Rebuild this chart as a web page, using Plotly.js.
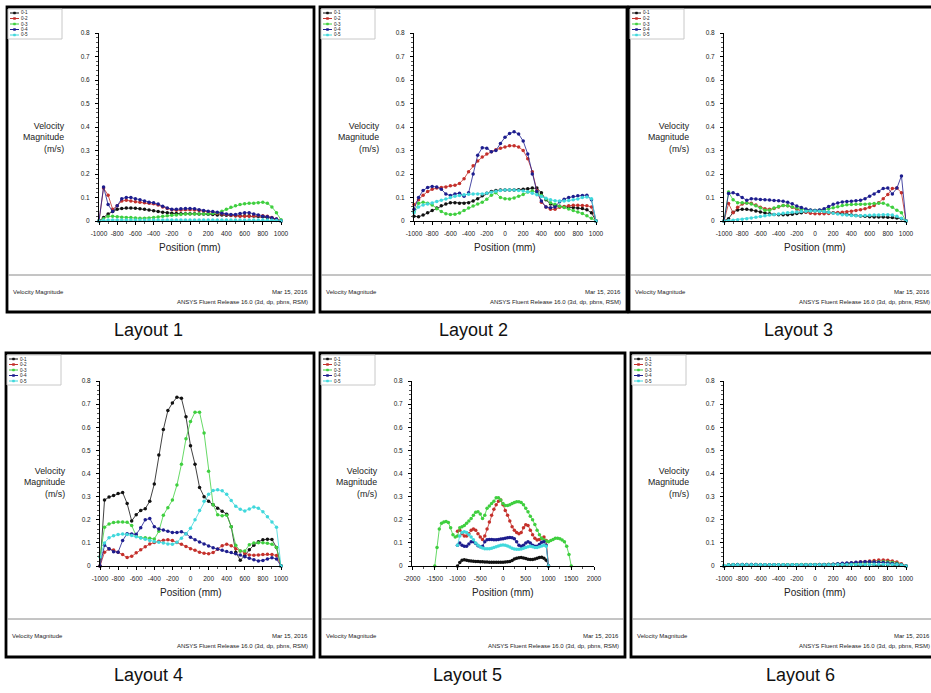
<!DOCTYPE html>
<html>
<head>
<meta charset="utf-8">
<script src="https://cdn.plot.ly/plotly-3.0.1.min.js"></script>
<style>html,body{margin:0;padding:0;background:#fff;}#chart{width:931px;height:693px;}</style>
</head>
<body>
<div id="chart"></div>
<script>
// ---------- data ----------
const positions = [-1000,-950,-900,-850,-800,-750,-700,-650,-600,-550,-500,-450,-400,-350,-300,-250,-200,-150,-100,-50,0,50,100,150,200,250,300,350,400,450,500,550,600,650,700,750,800,850,900,950,1000];
const positionsWide = [-1500,-1450,-1400,-1350,-1300,-1250,-1200,-1150,-1100,-1050,-1000,-950,-900,-850,-800,-750,-700,-650,-600,-550,-500,-450,-400,-350,-300,-250,-200,-150,-100,-50,0,50,100,150,200,250,300,350,400,450,500,550,600,650,700,750,800,850,900,950,1000,1050,1100,1150,1200,1250,1300,1350,1400,1450,1500];
const seriesNames = ['0-1','0-2','0-3','0-4','0-5'];
const layoutNames = ['Layout 1','Layout 2','Layout 3','Layout 4','Layout 5','Layout 6'];
const xTickVals = [-1000,-800,-600,-400,-200,0,200,400,600,800,1000];
const xTickText = ['-1000','-800','-600','-400','-200','0','200','400','600','800','1000'];
const xTickValsWide = [-2000,-1500,-1000,-500,0,500,1000,1500,2000];
const xTickTextWide = ['-2000','-1500','-1000','-500','0','500','1000','1500','2000'];
const yTickVals = [0,0.1,0.2,0.3,0.4,0.5,0.6,0.7,0.8];
const yTickText = ['0','0.1','0.2','0.3','0.4','0.5','0.6','0.7','0.8'];
const yTitleLines = ['Velocity','Magnitude','(m/s)'];
const xTitle = 'Position (mm)';
const footerLeft = 'Velocity Magnitude';
const footerDate = 'Mar 15, 2016';
const footerRelease = 'ANSYS Fluent Release 16.0 (3d, dp, pbns, RSM)';

// Layout 1
const l1_01 = [0,0.015,0.03,0.04,0.05, 0.053,0.055,0.055,0.054,0.052, 0.05,0.047,0.044,0.04,0.037, 0.035,0.033,0.032,0.031,0.031, 0.031,0.031,0.03,0.03,0.029, 0.028,0.026,0.025,0.024,0.023, 0.022,0.022,0.022,0.022,0.021, 0.02,0.018,0.015,0.012,0.006, 0];
const l1_02 = [0,0.14,0.11,0.05,0.065, 0.085,0.088,0.085,0.082,0.08, 0.078,0.076,0.073,0.068,0.06, 0.053,0.048,0.046,0.047,0.048, 0.048,0.047,0.045,0.042,0.038, 0.035,0.032,0.03,0.027,0.024, 0.022,0.02,0.02,0.02,0.022, 0.023,0.022,0.02,0.015,0.008, 0];
const l1_03 = [0,0.01,0.02,0.02,0.018, 0.016,0.015,0.015,0.013,0.012, 0.012,0.013,0.015,0.017,0.02, 0.022,0.024,0.026,0.028,0.03, 0.03,0.03,0.03,0.03,0.03, 0.032,0.035,0.042,0.05,0.058, 0.065,0.07,0.073,0.075,0.076, 0.078,0.08,0.075,0.06,0.035, 0.005];
const l1_04 = [0,0.145,0.07,0.04,0.065, 0.095,0.1,0.1,0.095,0.09, 0.085,0.08,0.078,0.072,0.063, 0.055,0.05,0.05,0.052,0.053, 0.053,0.052,0.048,0.045,0.042, 0.04,0.037,0.033,0.03,0.028, 0.028,0.032,0.035,0.035,0.03, 0.025,0.02,0.018,0.014,0.008, 0];
const l1_05 = [0,0.003,0.004,0.004,0.004, 0.004,0.004,0.004,0.004,0.004, 0.004,0.004,0.004,0.004,0.004, 0.004,0.004,0.004,0.004,0.004, 0.004,0.004,0.004,0.004,0.004, 0.004,0.004,0.004,0.004,0.004, 0.004,0.004,0.004,0.004,0.004, 0.004,0.004,0.004,0.003,0.002, 0];
// Layout 2
const l2_01 = [0.02,0.018,0.025,0.035,0.045, 0.055,0.065,0.072,0.078,0.078, 0.075,0.076,0.078,0.085,0.095, 0.107,0.118,0.125,0.13,0.132, 0.132,0.132,0.132,0.133,0.135, 0.137,0.14,0.14,0.12,0.09, 0.072,0.065,0.063,0.06,0.058, 0.057,0.055,0.053,0.048,0.035, 0];
const l2_02 = [0.07,0.09,0.11,0.125,0.135, 0.14,0.143,0.145,0.15,0.152, 0.16,0.18,0.21,0.235,0.255, 0.272,0.285,0.295,0.303,0.31, 0.315,0.32,0.32,0.315,0.3, 0.265,0.21,0.13,0.08,0.06, 0.05,0.05,0.058,0.062,0.065, 0.067,0.067,0.066,0.065,0.06, 0];
const l2_03 = [0.04,0.075,0.08,0.076,0.068, 0.052,0.04,0.031,0.028,0.029, 0.034,0.045,0.055,0.064,0.072, 0.08,0.093,0.11,0.12,0.1, 0.095,0.094,0.098,0.105,0.113, 0.123,0.128,0.122,0.108,0.094, 0.078,0.07,0.063,0.057,0.051, 0.045,0.038,0.032,0.022,0.012, 0];
const l2_04 = [0.05,0.1,0.13,0.143,0.147, 0.145,0.135,0.115,0.108,0.115, 0.118,0.105,0.12,0.2,0.28, 0.312,0.31,0.295,0.3,0.33, 0.356,0.372,0.38,0.37,0.34, 0.285,0.2,0.125,0.085,0.06, 0.056,0.06,0.082,0.093,0.1, 0.104,0.107,0.109,0.11,0.09, 0];
const l2_05 = [0.035,0.06,0.068,0.072,0.077, 0.083,0.088,0.094,0.1,0.105, 0.108,0.112,0.114,0.115,0.115, 0.115,0.118,0.122,0.127,0.13, 0.132,0.132,0.132,0.13,0.128, 0.124,0.118,0.112,0.104,0.097, 0.09,0.086,0.085,0.085,0.087, 0.09,0.094,0.1,0.102,0.095, 0];
// Layout 3
const l3_01 = [0,0.01,0.037,0.047,0.05, 0.05,0.047,0.043,0.038,0.034, 0.031,0.028,0.027,0.027,0.027, 0.029,0.032,0.035,0.038,0.042, 0.045,0.042,0.039,0.037,0.035, 0.033,0.031,0.028,0.025,0.023, 0.021,0.02,0.018,0.017,0.017, 0.017,0.016,0.015,0.013,0.01, 0];
const l3_02 = [0,0.074,0.035,0.058,0.072, 0.077,0.075,0.068,0.058,0.052, 0.05,0.053,0.06,0.066,0.065, 0.059,0.05,0.043,0.037,0.033, 0.031,0.031,0.031,0.032,0.034, 0.036,0.037,0.039,0.042,0.045, 0.048,0.052,0.058,0.066,0.078, 0.095,0.113,0.138,0.14,0.12, 0];
const l3_03 = [0,0.123,0.09,0.078,0.078, 0.077,0.072,0.065,0.055,0.046, 0.046,0.055,0.062,0.066,0.065, 0.06,0.055,0.05,0.048,0.046, 0.045,0.046,0.048,0.052,0.056, 0.061,0.066,0.069,0.07,0.071, 0.071,0.071,0.072,0.074,0.076, 0.076,0.068,0.058,0.046,0.035, 0];
const l3_04 = [0,0.117,0.12,0.113,0.1, 0.088,0.095,0.094,0.092,0.09, 0.089,0.087,0.086,0.084,0.08, 0.073,0.064,0.057,0.051,0.047, 0.045,0.047,0.052,0.062,0.071, 0.077,0.081,0.083,0.084,0.086, 0.088,0.095,0.105,0.115,0.125, 0.138,0.14,0.115,0.14,0.192, 0];
const l3_05 = [0,0.002,0.003,0.005,0.007, 0.01,0.013,0.016,0.019,0.022, 0.025,0.028,0.03,0.033,0.035, 0.037,0.038,0.04,0.042,0.043, 0.043,0.042,0.04,0.037,0.033, 0.03,0.027,0.025,0.023,0.022, 0.022,0.023,0.024,0.025,0.026, 0.027,0.027,0.025,0.02,0.012, 0];
// Layout 4
const l4_01 = [0,0.285,0.298,0.305,0.313, 0.318,0.27,0.195,0.222,0.24, 0.248,0.28,0.355,0.48,0.59, 0.672,0.705,0.73,0.725,0.645, 0.52,0.44,0.34,0.3,0.28, 0.265,0.25,0.237,0.224,0.17, 0.06,0.025,0.045,0.07,0.09, 0.105,0.113,0.116,0.115,0.08, 0];
const l4_02 = [0,0.06,0.073,0.069,0.06, 0.05,0.037,0.042,0.057,0.07, 0.083,0.095,0.102,0.107,0.111, 0.113,0.11,0.102,0.094,0.084, 0.075,0.068,0.06,0.055,0.053, 0.058,0.072,0.088,0.094,0.088, 0.075,0.065,0.055,0.048,0.047, 0.048,0.05,0.051,0.05,0.045, 0];
const l4_03 = [0.04,0.168,0.182,0.188,0.19, 0.19,0.189,0.175,0.13,0.122, 0.122,0.12,0.117,0.15,0.22, 0.252,0.285,0.35,0.44,0.55, 0.625,0.665,0.665,0.575,0.41, 0.265,0.222,0.217,0.22,0.17, 0.09,0.065,0.065,0.092,0.1, 0.101,0.101,0.098,0.094,0.08, 0];
const l4_04 = [0,0.09,0.075,0.062,0.06, 0.11,0.14,0.138,0.137,0.165, 0.2,0.205,0.17,0.16,0.156, 0.15,0.145,0.145,0.148,0.14, 0.124,0.113,0.104,0.095,0.087, 0.079,0.073,0.068,0.063,0.058, 0.053,0.048,0.04,0.033,0.027, 0.022,0.024,0.03,0.036,0.03, 0];
const l4_05 = [0.04,0.1,0.122,0.131,0.136, 0.138,0.136,0.132,0.127,0.121, 0.116,0.11,0.106,0.103,0.1, 0.095,0.094,0.103,0.12,0.14, 0.163,0.2,0.24,0.28,0.31, 0.326,0.33,0.325,0.31,0.283, 0.258,0.245,0.238,0.247,0.255, 0.25,0.235,0.213,0.19,0.168, 0];
// Layout 5 (0-3 spans the wide positions)
const l5_01 = [0,0.015,0.025,0.027,0.025, 0.023,0.022,0.021,0.02,0.019, 0.018,0.018,0.017,0.017,0.016, 0.016,0.016,0.016,0.016,0.016, 0.016,0.017,0.018,0.02,0.024, 0.03,0.034,0.036,0.037,0.035, 0.032,0.029,0.028,0.028,0.03, 0.034,0.037,0.038,0.034,0.025, 0];
const l5_02 = [0.15,0.155,0.14,0.13,0.13, 0.14,0.155,0.16,0.155,0.14, 0.125,0.115,0.13,0.16,0.19, 0.22,0.245,0.265,0.28,0.285, 0.265,0.24,0.22,0.195,0.17, 0.155,0.145,0.14,0.145,0.165, 0.178,0.175,0.155,0.135,0.12, 0.112,0.115,0.12,0.125,0.11, 0];
const l5_03 = [0,0.08,0.16,0.185,0.19, 0.192,0.188,0.165,0.135,0.125, 0.13,0.165,0.17,0.175,0.185, 0.195,0.205,0.22,0.232,0.235, 0.225,0.205,0.22,0.25,0.26, 0.27,0.28,0.295,0.295,0.285, 0.27,0.262,0.262,0.265,0.27, 0.275,0.278,0.278,0.275,0.265, 0.25,0.235,0.215,0.2,0.18, 0.155,0.135,0.12,0.112,0.108, 0.105,0.11,0.115,0.12,0.12, 0.118,0.112,0.105,0.085,0.05, 0];
const l5_04 = [0.09,0.1,0.09,0.085,0.085, 0.095,0.105,0.105,0.097,0.088, 0.083,0.085,0.105,0.113,0.115, 0.115,0.113,0.113,0.115,0.117, 0.118,0.12,0.122,0.123,0.122, 0.118,0.105,0.09,0.085,0.09, 0.1,0.105,0.1,0.09,0.085, 0.085,0.093,0.103,0.105,0.09, 0];
const l5_05 = [0.09,0.13,0.145,0.148,0.145, 0.135,0.125,0.113,0.1,0.09, 0.083,0.078,0.075,0.075,0.075, 0.077,0.08,0.083,0.087,0.09, 0.091,0.09,0.087,0.082,0.077, 0.074,0.072,0.072,0.074,0.077, 0.08,0.083,0.085,0.083,0.08, 0.08,0.083,0.087,0.09,0.085, 0];
// Layout 6
const l6_01 = [0,0.003,0.004,0.004,0.004, 0.004,0.004,0.004,0.004,0.004, 0.004,0.004,0.004,0.004,0.004, 0.004,0.004,0.004,0.004,0.004, 0.004,0.004,0.004,0.004,0.004, 0.004,0.004,0.004,0.004,0.004, 0.004,0.004,0.004,0.004,0.004, 0.004,0.004,0.004,0.004,0.003, 0];
const l6_02 = [0,0.004,0.005,0.005,0.005, 0.005,0.005,0.005,0.005,0.005, 0.005,0.005,0.005,0.005,0.005, 0.005,0.005,0.005,0.005,0.005, 0.005,0.005,0.005,0.005,0.006, 0.007,0.009,0.011,0.013,0.015, 0.018,0.02,0.022,0.024,0.026, 0.026,0.025,0.022,0.017,0.01, 0];
const l6_03 = [0,0.005,0.006,0.006,0.006, 0.006,0.006,0.006,0.006,0.005, 0.005,0.005,0.005,0.005,0.005, 0.005,0.005,0.006,0.006,0.006, 0.007,0.007,0.007,0.008,0.008, 0.009,0.01,0.011,0.012,0.013, 0.014,0.015,0.016,0.017,0.018, 0.018,0.017,0.015,0.012,0.007, 0];
const l6_04 = [0,0.004,0.005,0.006,0.006, 0.006,0.006,0.006,0.005,0.005, 0.005,0.005,0.004,0.004,0.004, 0.004,0.004,0.004,0.005,0.005, 0.005,0.006,0.006,0.007,0.008, 0.01,0.012,0.013,0.014,0.016, 0.017,0.018,0.018,0.017,0.016, 0.015,0.013,0.011,0.009,0.005, 0];
const l6_05 = [0.002,0.004,0.005,0.005,0.005, 0.005,0.005,0.005,0.005,0.005, 0.005,0.005,0.005,0.005,0.005, 0.005,0.005,0.005,0.005,0.005, 0.005,0.005,0.005,0.005,0.005, 0.006,0.006,0.006,0.006,0.006, 0.007,0.007,0.007,0.008,0.008, 0.008,0.008,0.007,0.006,0.004, 0];

// ---------- assembly ----------
const panelSeries = [
  {xs:[positions,positions,positions,positions,positions], ys:[l1_01,l1_02,l1_03,l1_04,l1_05]},
  {xs:[positions,positions,positions,positions,positions], ys:[l2_01,l2_02,l2_03,l2_04,l2_05]},
  {xs:[positions,positions,positions,positions,positions], ys:[l3_01,l3_02,l3_03,l3_04,l3_05]},
  {xs:[positions,positions,positions,positions,positions], ys:[l4_01,l4_02,l4_03,l4_04,l4_05]},
  {xs:[positions,positions,positionsWide,positions,positions], ys:[l5_01,l5_02,l5_03,l5_04,l5_05]},
  {xs:[positions,positions,positions,positions,positions], ys:[l6_01,l6_02,l6_03,l6_04,l6_05]}
];
const colors = ['#111111','#c4302b','#3fcf3f','#1d1d8e','#40d8dc'];
const W = 931, H = 693;
const fx = p => p / W;
const fy = p => 1 - p / H;
const geom = [
  {fl:7,   fr:314, ft:7,   fb:312, sep:275, ax0:99,  ax1:281, y0:221, y1:33,  wide:false, lx:148},
  {fl:320, fr:627, ft:7,   fb:312, sep:275, ax0:414, ax1:596, y0:221, y1:33,  wide:false, lx:473},
  {fl:629, fr:936, ft:7,   fb:312, sep:275, ax0:724, ax1:906, y0:221, y1:33,  wide:false, lx:798},
  {fl:6,   fr:314, ft:353, fb:657, sep:619, ax0:100, ax1:281, y0:566, y1:381, wide:false, lx:148},
  {fl:320, fr:625, ft:353, fb:657, sep:619, ax0:412, ax1:594, y0:566, y1:381, wide:true,  lx:468},
  {fl:631, fr:936, ft:353, fb:657, sep:619, ax0:724, ax1:906, y0:566, y1:381, wide:false, lx:800}
];
const narrow = 'Liberation Sans Narrow, Arial Narrow, Liberation Sans, Arial';
const tickFont = {family:narrow, size:6.5, color:'#222'};
const sans = 'Liberation Sans, Arial, sans-serif';

const traces = [];
const layout = {
  width: W, height: H, margin:{l:0,r:0,t:0,b:0},
  paper_bgcolor:'#fff', plot_bgcolor:'rgba(0,0,0,0)',
  showlegend:false, shapes:[], annotations:[]
};

geom.forEach((g, i) => {
  const n = i + 1;
  const xr = 'x' + n, yr = 'y' + n;
  layout['xaxis' + n] = {
    domain:[fx(g.ax0), fx(g.ax1)], anchor:yr,
    range: g.wide ? [-2000,2000] : [-1000,1000],
    tickmode:'array',
    tickvals: g.wide ? xTickValsWide : xTickVals,
    ticktext: g.wide ? xTickTextWide : xTickText,
    showline:true, linecolor:'#000', linewidth:1,
    ticks:'outside', ticklen:3, tickwidth:1, tickcolor:'#000',
    ticklabelstandoff:3,
    minor:{ticks:'outside', ticklen:2, tickwidth:1, tickcolor:'#555', tickmode:'linear', tick0:0, dtick: g.wide ? 250 : 100},
    tickfont:tickFont, showgrid:false, zeroline:false, fixedrange:true
  };
  layout['yaxis' + n] = {
    domain:[fy(g.y0), fy(g.y1)], anchor:xr,
    range:[0,0.8],
    tickmode:'array', tickvals:yTickVals, ticktext:yTickText,
    showline:true, linecolor:'#000', linewidth:1,
    ticks:'outside', ticklen:3, tickwidth:1, tickcolor:'#000',
    ticklabelstandoff:4,
    minor:{ticks:'outside', ticklen:2, tickwidth:1, tickcolor:'#555', tickmode:'linear', tick0:0, dtick:0.02},
    tickfont:tickFont, showgrid:false, zeroline:false, fixedrange:true
  };

  const ps = panelSeries[i];
  for (let s = 0; s < 5; s++) {
    traces.push({
      type:'scatter', mode:'lines+markers',
      x: ps.xs[s], y: ps.ys[s], name: seriesNames[s],
      xaxis:xr, yaxis:yr, cliponaxis:false,
      line:{color:colors[s], width:0.8, dash:(i===5 && s===0) ? 'dot' : 'solid'},
      marker:{color:colors[s], size:3.5, symbol:'circle', line:{width:0}},
      hoverinfo:'skip'
    });
  }

  // frame and footer separator
  layout.shapes.push({type:'rect', xref:'paper', yref:'paper', x0:fx(g.fl), x1:fx(g.fr), y0:fy(g.fb), y1:fy(g.ft),
    line:{color:'#000', width:2.8}, fillcolor:'rgba(0,0,0,0)', layer:'below'});
  layout.shapes.push({type:'line', xref:'paper', yref:'paper', x0:fx(g.fl+1), x1:fx(g.fr-1), y0:fy(g.sep), y1:fy(g.sep),
    line:{color:'#8a8a8a', width:1}});

  // legend box
  const lx = g.fl + 1, ly = g.ft + 2;
  layout.shapes.push({type:'rect', xref:'paper', yref:'paper', x0:fx(lx), x1:fx(lx+54), y0:fy(ly+30), y1:fy(ly),
    line:{color:'#c8c8c8', width:1}, fillcolor:'#fff'});
  for (let s = 0; s < 5; s++) {
    const yy = ly + 4 + s * 5.5;
    layout.shapes.push({type:'line', xref:'paper', yref:'paper', x0:fx(lx+2), x1:fx(lx+11), y0:fy(yy), y1:fy(yy),
      line:{color:colors[s], width:1}});
    layout.shapes.push({type:'rect', xref:'paper', yref:'paper', x0:fx(lx+5.5), x1:fx(lx+7.5), y0:fy(yy+1), y1:fy(yy-1),
      line:{color:colors[s], width:0.5}, fillcolor:colors[s]});
    layout.annotations.push({xref:'paper', yref:'paper', x:fx(lx+11.5), y:fy(yy), xanchor:'left', yanchor:'middle',
      text:seriesNames[s], showarrow:false, borderpad:0, font:{family:narrow, size:4.6, color:'#222'}});
  }

  // axis titles
  layout.annotations.push({xref:'paper', yref:'paper', x:fx(g.ax0-33), y:fy(g.y0-84), xanchor:'right', yanchor:'middle',
    align:'right', text:yTitleLines.join('<br>'), showarrow:false, borderpad:0,
    font:{family:sans, size:8.8, color:'#222'}});
  layout.annotations.push({xref:'paper', yref:'paper', x:fx((g.ax0+g.ax1)/2), y:fy(g.y0+26),
    xanchor:'center', yanchor:'middle', text:xTitle, showarrow:false,
    font:{family:sans, size:10, color:'#222'}});

  // footer
  layout.annotations.push({xref:'paper', yref:'paper', x:fx(g.fl+5), y:fy(g.sep+17), xanchor:'left', yanchor:'middle',
    text:footerLeft, showarrow:false, borderpad:0, font:{family:narrow, size:6, color:'#222'}});
  layout.annotations.push({xref:'paper', yref:'paper', x:fx(g.fr-5), y:fy(g.sep+17), xanchor:'right', yanchor:'middle',
    text:footerDate, showarrow:false, borderpad:0, font:{family:narrow, size:6, color:'#222'}});
  layout.annotations.push({xref:'paper', yref:'paper', x:fx(g.fr-5), y:fy(g.sep+27), xanchor:'right', yanchor:'middle',
    text:footerRelease, showarrow:false, borderpad:0, font:{family:narrow, size:6, color:'#222'}});

  // caption below panel
  layout.annotations.push({xref:'paper', yref:'paper', x:fx(g.lx), y:fy(g.fb+18), xanchor:'center', yanchor:'middle',
    text:layoutNames[i], showarrow:false, font:{family:sans, size:18, color:'#111'}});
});

Plotly.newPlot('chart', traces, layout, {staticPlot:true, displayModeBar:false});
</script>
</body>
</html>
